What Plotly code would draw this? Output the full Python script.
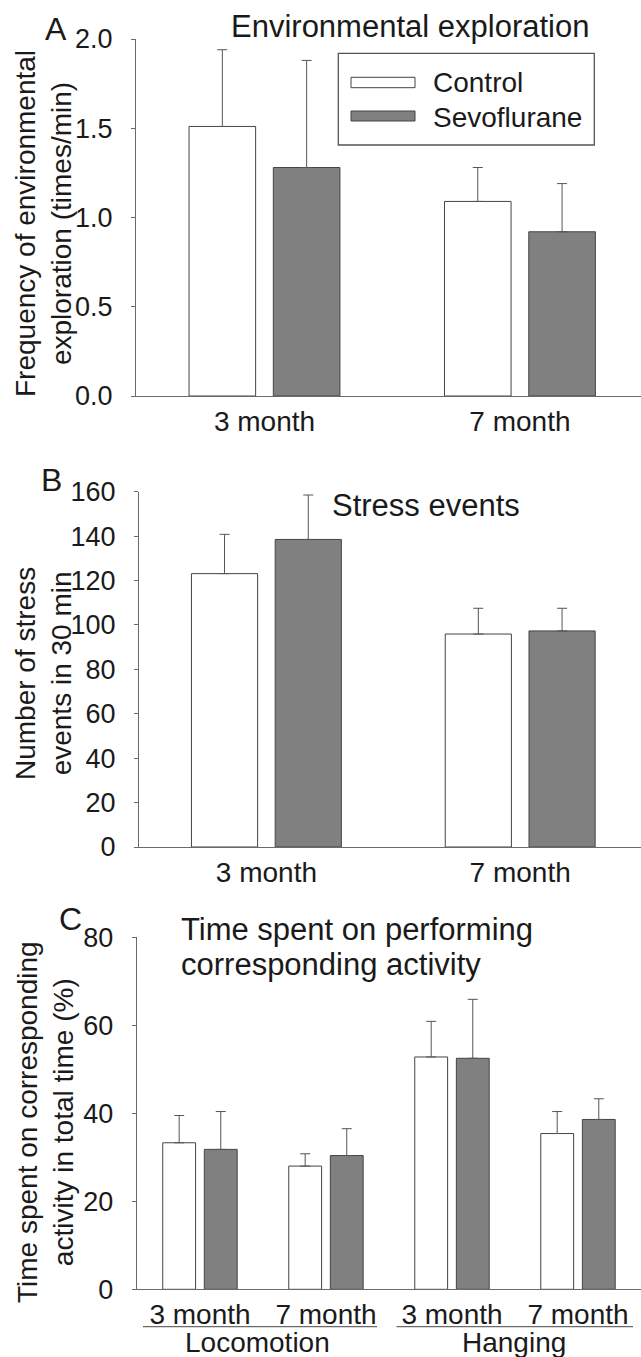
import plotly.graph_objects as go

W, H = 641, 1357

# ---------------- data ----------------
age_groups = ["3 month", "7 month"]
series_names = ["Control", "Sevoflurane"]

# Panel A: environmental exploration (times/min)
env_control = [1.51, 1.09]
env_control_sem = [0.43, 0.19]
env_sevo = [1.28, 0.92]
env_sevo_sem = [0.60, 0.27]

# Panel B: stress events in 30 min
stress_control = [123.1, 95.9]
stress_control_sem = [17.7, 11.6]
stress_sevo = [138.5, 97.3]
stress_sevo_sem = [20.0, 10.2]

# Panel C: time spent on activity (%)
activity_ticks = ["3 month", "7 month", "3 month", "7 month"]
activity_groups = ["Locomotion", "Hanging"]
time_control = [33.3, 28.0, 52.8, 35.4]
time_control_sem = [6.2, 2.8, 8.1, 5.0]
time_sevo = [31.8, 30.4, 52.5, 38.6]
time_sevo_sem = [8.6, 6.1, 13.4, 4.7]

# ---------------- styling ----------------
FONT = "Liberation Sans, Arial, sans-serif"
TXT = "#1a1a1a"
AX = "#6a6a6a"
EDGE = "#444444"
GRAY = "#808080"
ERR = "#555555"


def px_x(p):
    return p / W


def px_y(p):
    return 1 - p / H


fig = go.Figure()


def add_pair(xs, c, cs, s, ss, xa, ya):
    for name, vals, sems, fill in [("Control", c, cs, "white"), ("Sevoflurane", s, ss, GRAY)]:
        fig.add_trace(go.Bar(
            x=xs, y=vals, name=name, xaxis=xa, yaxis=ya, showlegend=False,
            marker=dict(color=fill, line=dict(color=EDGE, width=1)),
            error_y=dict(type="data", array=sems, arrayminus=[0] * len(sems),
                         symmetric=False, color=ERR, thickness=1, width=5),
        ))


xs_ab = list(range(len(age_groups)))
xs_c = list(range(len(activity_ticks)))
add_pair(xs_ab, env_control, env_control_sem, env_sevo, env_sevo_sem, "x", "y")
add_pair(xs_ab, stress_control, stress_control_sem, stress_sevo, stress_sevo_sem, "x2", "y2")
add_pair(xs_c, time_control, time_control_sem, time_sevo, time_sevo_sem, "x3", "y3")

xtickfont = dict(family=FONT, size=28, color=TXT)
ytickfont = dict(family=FONT, size=27, color=TXT)

common_x = dict(showline=True, linecolor=AX, linewidth=1.2, ticks="", showgrid=False,
                zeroline=False, tickfont=xtickfont, ticklabelstandoff=0, automargin=False)
common_y = dict(showline=True, linecolor=AX, linewidth=1.2, ticks="outside", ticklen=4,
                tickcolor=AX, tickwidth=1.2, showgrid=False, zeroline=False,
                tickfont=ytickfont, ticklabelstandoff=13, automargin=False)

fig.update_layout(
    template="none",
    width=W, height=H, autosize=False,
    margin=dict(l=0, r=0, t=0, b=0, pad=0),
    paper_bgcolor="white", plot_bgcolor="white",
    barmode="group", bargap=0.34, bargroupgap=0.21,
    font=dict(family=FONT, color=TXT),
    showlegend=False,
    xaxis=dict(domain=[px_x(136), 1], range=[-0.503, 1.474], anchor="y",
               tickvals=xs_ab, ticktext=age_groups, **common_x),
    yaxis=dict(domain=[px_y(396), px_y(39)], range=[0, 2.0], anchor="x",
               tickvals=[0, 0.5, 1.0, 1.5, 2.0], tickformat=".1f", **common_y),
    xaxis2=dict(domain=[px_x(139), 1], range=[-0.502, 1.476], anchor="y2",
                tickvals=xs_ab, ticktext=age_groups, **common_x),
    yaxis2=dict(domain=[px_y(847), px_y(491.7)], range=[0, 160], anchor="x2",
                tickvals=list(range(0, 161, 20)), **common_y),
    xaxis3=dict(domain=[px_x(136.7), 1], range=[-0.502, 3.5], anchor="y3",
                tickvals=xs_c, ticktext=activity_ticks, **common_x),
    yaxis3=dict(domain=[px_y(1289.3), px_y(937.3)], range=[0, 80], anchor="x3",
                tickvals=list(range(0, 81, 20)), **common_y),
)

ann = []


def text(t, x, y, size, xanchor="center", yanchor="middle", angle=0, xref="paper"):
    ann.append(dict(text=t, x=x, y=y, xref=xref, yref="paper", showarrow=False,
                    xanchor=xanchor, yanchor=yanchor, textangle=angle,
                    font=dict(family=FONT, size=size, color=TXT)))


# panel letters
text("A", px_x(56), px_y(29), 32)
text("B", px_x(51), px_y(480), 32)
text("C", px_x(70), px_y(919), 32)

# panel titles
text("Environmental exploration", px_x(229), px_y(26), 31, xanchor="left")
text("Stress events", px_x(330), px_y(505), 31, xanchor="left")
text("Time spent on performing", px_x(179), px_y(929), 31, xanchor="left")
text("corresponding activity", px_x(179), px_y(964), 31, xanchor="left")

# y-axis titles
text("Frequency of environmental<br>exploration (times/min)", px_x(43), px_y(224), 28, angle=-90)
text("Number of stress<br>events in 30 min", px_x(43), px_y(674), 28, angle=-90)
text("Time spent on corresponding<br>activity in total time (%)", px_x(45), px_y(1122), 28, angle=-90)

# legend
shapes = []
shapes.append(dict(type="rect", xref="paper", yref="paper",
                   x0=px_x(338.3), x1=px_x(594.3), y0=px_y(145), y1=px_y(53.3),
                   line=dict(color="#555555", width=1.3), fillcolor="white"))
shapes.append(dict(type="rect", xref="paper", yref="paper",
                   x0=px_x(351), x1=px_x(415), y0=px_y(87.7), y1=px_y(77.3),
                   line=dict(color=EDGE, width=1), fillcolor="white"))
shapes.append(dict(type="rect", xref="paper", yref="paper",
                   x0=px_x(351), x1=px_x(415), y0=px_y(121), y1=px_y(111),
                   line=dict(color=EDGE, width=1), fillcolor=GRAY))
text(series_names[0], px_x(431), px_y(83), 28, xanchor="left")
text(series_names[1], px_x(431), px_y(117), 28, xanchor="left")

# group brackets for panel C
shapes.append(dict(type="line", xref="x3", yref="paper", x0=-0.452, x1=1.405,
                   y0=px_y(1326.7), y1=px_y(1326.7), line=dict(color=AX, width=1.2)))
shapes.append(dict(type="line", xref="x3", yref="paper", x0=1.56, x1=3.437,
                   y0=px_y(1326.7), y1=px_y(1326.7), line=dict(color=AX, width=1.2)))
text(activity_groups[0], 0.46, px_y(1342), 28, xref="x3")
text(activity_groups[1], 2.49, px_y(1342), 28, xref="x3")

fig.update_layout(annotations=ann, shapes=shapes)

fig.write_html(
    "out.html",
    config={"displayModeBar": False},
    post_script="document.body.style.margin='0px';document.body.style.padding='0px';",
)
